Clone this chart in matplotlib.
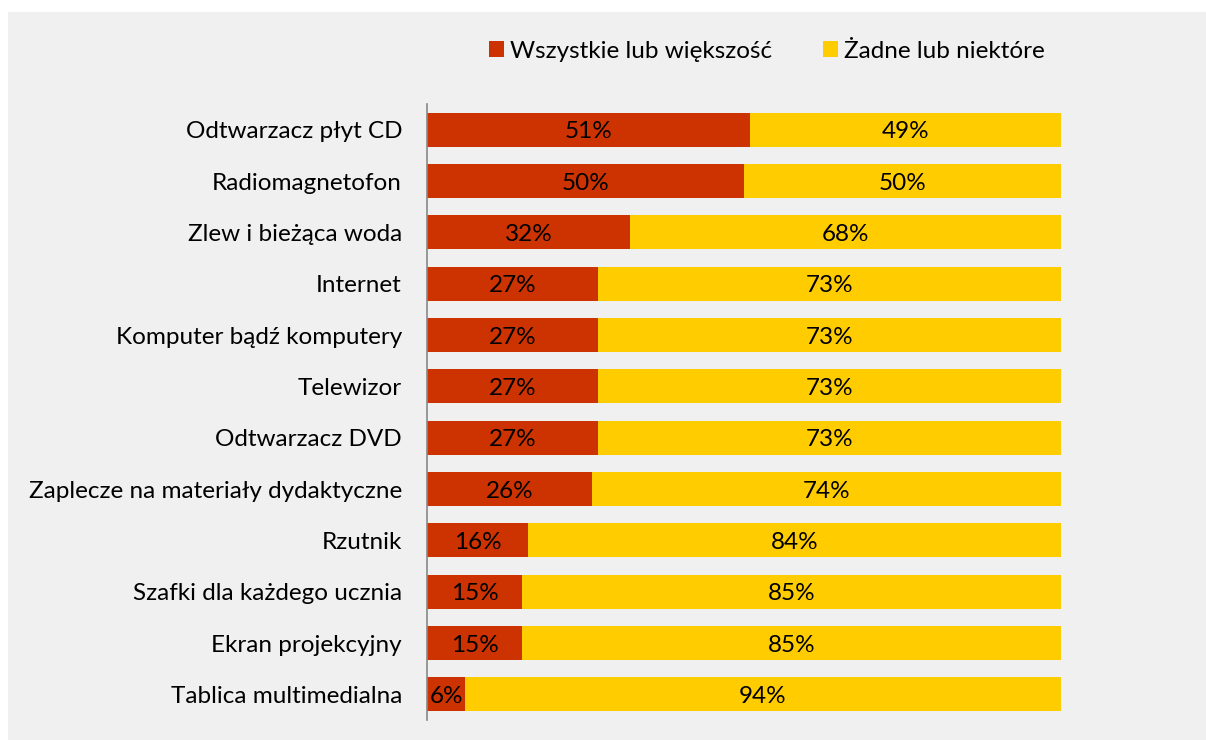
import matplotlib.pyplot as plt
from matplotlib.patches import Rectangle

plt.rcParams['font.family'] = ['Lato', 'DejaVu Sans']

categories = ["Odtwarzacz płyt CD", "Radiomagnetofon", "Zlew i bieżąca woda", "Internet",
              "Komputer bądź komputery", "Telewizor", "Odtwarzacz DVD",
              "Zaplecze na materiały dydaktyczne", "Rzutnik", "Szafki dla każdego ucznia",
              "Ekran projekcyjny", "Tablica multimedialna"]
all_most = [51, 50, 32, 27, 27, 27, 27, 26, 16, 15, 15, 6]
none_some = [49, 50, 68, 73, 73, 73, 73, 74, 84, 85, 85, 94]
series_names = ["Wszystkie lub większość", "Żadne lub niektóre"]

red = '#CC3300'
yellow = '#FFCC00'

fig = plt.figure(figsize=(12.06, 7.40), dpi=100)
fig.patch.set_facecolor('white')
fig.patches.append(Rectangle((8 / 1206, 0), 1 - 8 / 1206, 1 - 12 / 740,
                             transform=fig.transFigure, facecolor='#F0F0F0',
                             edgecolor='none', zorder=-10))

ax = fig.add_axes([427 / 1206, 1 - 720 / 740, (1061 - 427) / 1206, (720 - 104) / 740])
ax.set_facecolor('none')

y = list(range(len(categories)))
b1 = ax.barh(y, all_most, height=0.66, color=red, label=series_names[0])
b2 = ax.barh(y, none_some, left=all_most, height=0.66, color=yellow, label=series_names[1])

# value labels in the middle of each segment
for i in y:
    ax.text(all_most[i] / 2, i, f"{all_most[i]}%", ha='center', va='center_baseline', fontsize=17.5)
    ax.text(all_most[i] + none_some[i] / 2, i, f"{none_some[i]}%", ha='center',
            va='center_baseline', fontsize=17.5)

ax.set_xlim(0, 100)
ax.set_ylim(len(categories) - 0.5, -0.5)
ax.set_yticks(y)
ax.set_yticklabels(categories, fontsize=17.5)
ax.tick_params(axis='y', length=0, pad=18)
ax.set_xticks([])
for s in ['top', 'right', 'bottom']:
    ax.spines[s].set_visible(False)
ax.spines['left'].set_color('#888888')
ax.spines['left'].set_linewidth(1.2)

fig.legend(handles=[b1, b2], loc='center', bbox_to_anchor=(767 / 1206, 1 - 51 / 740),
           ncol=2, frameon=False, fontsize=17.5, handlelength=0.62, handleheight=0.62,
           handletextpad=0.25, columnspacing=2.1)

fig.savefig('out.png', dpi=100)
